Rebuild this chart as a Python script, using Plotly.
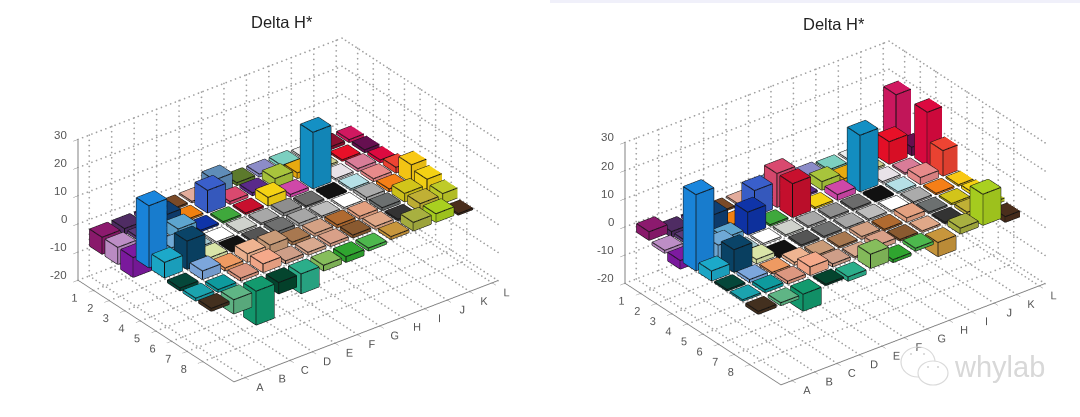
import numpy as np
import plotly.graph_objects as go

col_labels = ['A', 'B', 'C', 'D', 'E', 'F', 'G', 'H', 'I', 'J', 'K', 'L']
row_labels = ['1', '2', '3', '4', '5', '6', '7', '8']
z_ticks = [-20, -10, 0, 10, 20, 30]

# one row per line, columns A..L
well_colors = [
    ['#8C1A6E', '#4F2C63', '#6A3A8A', '#7A4A28', '#E3AC9C', '#5F8DB8', '#5C7A2C', '#8C8CC8', '#7CCFC0', '#EEEEEE', '#8A1030', '#D01860'],
    ['#BD8EC6', '#5D3A78', '#0E3F73', '#F08010', '#3A5FCB', '#D9496F', '#5A2A8A', '#A8C43C', '#E8AA10', '#CFCF90', '#E81028', '#660F50'],
    ['#7D1AA0', '#2C5D9A', '#5DA5CF', '#0F34A8', '#3FA83C', '#C8102E', '#F5D214', '#CF48A8', '#1490C4', '#E8E2E8', '#D97C98', '#DC0A40'],
    ['#1A86DD', '#6FA9D6', '#A5C8D0', '#FFFFFF', '#CFD2CC', '#A8A8A8', '#8E8E8E', '#6C6C6C', '#111111', '#B5E0E6', '#E88A8A', '#EE4433'],
    ['#1CA9C9', '#0A4468', '#D9E5A8', '#111111', '#555555', '#6F7070', '#A6A6A6', '#BDBDBD', '#FFFFFF', '#ABABAB', '#F57F17', '#F8C815'],
    ['#05473A', '#7CA6DC', '#EE9A62', '#EFB491', '#C99B78', '#A87850', '#D4A184', '#B06A30', '#E3A080', '#6C7070', '#D2C41A', '#F5D214'],
    ['#1BA3AE', '#0E9A9E', '#DC9780', '#F5A98A', '#CE9E88', '#D9A98F', '#D9A088', '#8A5A30', '#E0A888', '#333333', '#C0B035', '#BFCB28'],
    ['#43301F', '#5FB585', '#139A6E', '#04452E', '#2BAE8A', '#86BD5C', '#2FA52F', '#4DB84D', '#C8963C', '#A8B040', '#A9D020', '#4A2E1C'],
]

left_values = [
    [-6, -2, -1, 0.5, 0.5, 5, 1, 1, 1, 0.5, 1, 1],
    [-6, -1, 5, 0.5, 8, 1, 1, 3, 2, 0.5, 0.5, 1],
    [-7, 1, 4, 0.5, 0.5, 0.5, 3, 1, 20, 0.5, 1, 1],
    [22, 4, 0.5, -0.5, 0.5, 0.5, 1, 0.5, 0.5, 0.5, 1, 2],
    [5.5, 10, 1, 0.5, 0.5, 1, 1, 0.5, 0.5, 1, 1, 6.5],
    [-1, 3, 1, 3, 3, 1, 1, 1, 1, 1, 3, 5],
    [-1, -1, 1, 3, 1, 1, 1, 1, 1, 0.5, 3, 3.5],
    [-1, -5, -12, -4, -7, -2, -2, -1, 1, 3, 3, -0.5],
]

right_values = [
    [3, -2, -1, 0.5, 0.5, 3, 1, 1, 0.5, 0.5, 1, 18],
    [-1, -1, 6, -1, 9, 12, 0.5, 3, 1, 0.5, 8, 3],
    [-3, 1, 2, 8, 0.5, 12, 0.5, 2, 20, 0.5, 0.5, 19],
    [27, 6, 0.5, 0.5, 0.5, 0.5, 0.5, 0.5, 0.5, 0.5, 2.5, 9],
    [3.5, 8, 1.5, -1, 0.5, 0.5, 0.5, 0.5, 0.5, 0.5, 0.5, 0.5],
    [0.5, 1, 0.5, 1, 0.5, 0.5, 1, 0.5, 1.5, 0.5, 0.5, 1],
    [0.5, 1, 1, 3, 1, 0.5, 1.5, 0.5, 0.5, 0.5, 1, 1],
    [-1, -1, -6, 0.5, -1.5, 5, -1, 1, -5, 2, 11, -2],
]

x_range = [0.5, 12.26]
y_range = [10, 0]
z_range = [-20, 30]
bar_width = 0.8
edge_color = '#111111'
grid_color = '#A0A0A0'
axis_color = '#808080'
tick_font = dict(family='Liberation Sans', size=11.5, color='#555555')


def shade(hex_color, k):
    rgb = [int(hex_color[i:i + 2], 16) for i in (1, 3, 5)]
    return 'rgb(%d,%d,%d)' % tuple(min(255, int(v * k)) for v in rgb)


def bar_traces(values, scene):
    xs, ys, zs, ii, jj, kk, face_colors = [], [], [], [], [], [], []
    ex, ey, ez = [], [], []
    h = bar_width / 2
    for r, row in enumerate(values):
        for c, v in enumerate(row):
            n = len(xs)
            x0, x1 = c + 1 - h, c + 1 + h
            y0, y1 = r + 1 - h, r + 1 + h
            z0, z1 = min(0, v), max(0, v)
            xs += [x0, x1, x1, x0, x0, x1, x1, x0]
            ys += [y0, y0, y1, y1, y0, y0, y1, y1]
            zs += [z0, z0, z0, z0, z1, z1, z1, z1]
            color = well_colors[r][c]
            # top, front (y high), side (x low), then the two hidden walls
            faces = [((4, 5, 6), 1.0), ((4, 6, 7), 1.0),
                     ((3, 2, 6), 0.93), ((3, 6, 7), 0.93),
                     ((0, 3, 7), 0.98), ((0, 7, 4), 0.98),
                     ((0, 1, 5), 0.9), ((0, 5, 4), 0.9),
                     ((1, 2, 6), 0.9), ((1, 6, 5), 0.9)]
            for (a, b, d), k in faces:
                ii.append(n + a)
                jj.append(n + b)
                kk.append(n + d)
                face_colors.append(shade(color, k))
            for a, b in [(4, 5), (5, 6), (6, 7), (7, 4), (0, 3), (3, 2), (0, 4), (3, 7), (2, 6)]:
                ex += [xs[n + a], xs[n + b], None]
                ey += [ys[n + a], ys[n + b], None]
                ez += [zs[n + a], zs[n + b], None]
    mesh = go.Mesh3d(x=xs, y=ys, z=zs, i=ii, j=jj, k=kk, facecolor=face_colors, flatshading=True,
                     lighting=dict(ambient=1, diffuse=0, specular=0, fresnel=0, roughness=1),
                     hoverinfo='skip', showscale=False, scene=scene)
    edges = go.Scatter3d(x=ex, y=ey, z=ez, mode='lines', line=dict(color=edge_color, width=2),
                         hoverinfo='skip', showlegend=False, scene=scene)
    return [mesh, edges]


def dotted(p, q, gx, gy, gz):
    # dots about 6 px apart along one wall or floor line
    n = int(np.hypot((q[0] - p[0]) * 30, np.hypot((q[1] - p[1]) * 28, (q[2] - p[2]) * 3.4)) / 6)
    for u in np.linspace(0, 1, n):
        gx.append(p[0] + (q[0] - p[0]) * u)
        gy.append(p[1] + (q[1] - p[1]) * u)
        gz.append(p[2] + (q[2] - p[2]) * u)


def grid_trace(scene):
    gx, gy, gz = [], [], []
    xlo, xhi = x_range
    yhi, ylo = y_range
    zlo, zhi = z_range
    for t in range(1, 13):
        dotted((t, yhi, zlo), (t, ylo, zlo), gx, gy, gz)
        dotted((t, ylo, zlo), (t, ylo, zhi), gx, gy, gz)
    for t in range(1, 9):
        dotted((xlo, t, zlo), (xhi, t, zlo), gx, gy, gz)
        dotted((xhi, t, zlo), (xhi, t, zhi), gx, gy, gz)
    for t in z_ticks:
        dotted((xlo, ylo, t), (xhi, ylo, t), gx, gy, gz)
        dotted((xhi, ylo, t), (xhi, yhi, t), gx, gy, gz)
    return go.Scatter3d(x=gx, y=gy, z=gz, mode='markers', marker=dict(color=grid_color, size=1.0, line=dict(width=0)),
                        hoverinfo='skip', showlegend=False, scene=scene)


def scene_layout(domain_x, domain_y):
    axis_style = dict(showgrid=False, showbackground=False, zeroline=False, showline=True, linecolor=axis_color,
                      linewidth=2, ticks='outside', ticklen=6, tickcolor=axis_color, title=dict(text=''), tickangle=0,
                      tickfont=tick_font, showspikes=False)
    d = 1.27
    return dict(
        domain=dict(x=domain_x, y=domain_y),
        xaxis=dict(axis_style, range=x_range, tickvals=list(range(1, 13)), ticktext=col_labels),
        yaxis=dict(axis_style, range=y_range, tickvals=list(range(1, 9)), ticktext=row_labels),
        zaxis=dict(axis_style, range=z_range, tickvals=z_ticks, showticklabels=False),
        aspectmode='manual',
        aspectratio=dict(x=1.664, y=1.281, z=0.813),
        camera=dict(eye=dict(x=-0.527 * d, y=-0.687 * d, z=0.5 * d), up=dict(x=0, y=0, z=1),
                    center=dict(x=0, y=0, z=0), projection=dict(type='orthographic')),
        # z labels sit a little above their ticks, as in the reference
        annotations=[dict(x=x_range[0], y=y_range[1], z=t, text=str(t), showarrow=False, xanchor='right',
                          xshift=-9, yshift=5, font=tick_font) for t in z_ticks],
    )


fig = go.Figure()
for t in bar_traces(left_values, 'scene') + [grid_trace('scene')]:
    fig.add_trace(t)
for t in bar_traces(right_values, 'scene2') + [grid_trace('scene2')]:
    fig.add_trace(t)

title_font = dict(family='Liberation Sans', size=16.5, color='#222222')
bubble = dict(color='#DADADA', width=1.2)
shapes = [
    dict(type='rect', xref='paper', yref='paper', x0=550 / 1080, x1=1, y0=1 - 3 / 417, y1=1,
         fillcolor='#F0F0FA', line=dict(width=0)),
    dict(type='circle', xref='paper', yref='paper', x0=901 / 1080, x1=935 / 1080, y0=1 - 377 / 417, y1=1 - 347 / 417,
         line=bubble),
    dict(type='circle', xref='paper', yref='paper', x0=918 / 1080, x1=948 / 1080, y0=1 - 385 / 417, y1=1 - 361 / 417,
         line=bubble, fillcolor='white'),
]
for ex_, ey_ in [(911, 354), (924, 354), (928, 367), (938, 367)]:
    shapes.append(dict(type='circle', xref='paper', yref='paper', x0=(ex_ - 1) / 1080, x1=(ex_ + 1) / 1080,
                       y0=1 - (ey_ + 1) / 417, y1=1 - (ey_ - 1) / 417, line=dict(width=0), fillcolor='#D0D0D0'))

fig.update_layout(
    width=1080, height=417, margin=dict(l=0, r=0, t=0, b=0), paper_bgcolor='white', showlegend=False,
    scene=scene_layout([0.0421, 0.4921], [0.016, 0.976]),
    scene2=scene_layout([0.5481, 0.9981], [0.009, 0.969]),
    annotations=[
        dict(text='Delta H*', x=282 / 1080, y=1 - 22 / 417, xref='paper', yref='paper', showarrow=False, font=title_font,
             xanchor='center', yanchor='middle'),
        dict(text='Delta H*', x=834 / 1080, y=1 - 24 / 417, xref='paper', yref='paper', showarrow=False, font=title_font,
             xanchor='center', yanchor='middle'),
        dict(text='whylab', x=999 / 1080, y=1 - 367 / 417, xref='paper', yref='paper', showarrow=False,
             font=dict(family='Liberation Sans', size=29, color='#D8D8D8'), xanchor='center', yanchor='middle'),
    ],
    shapes=shapes,
)

fig.write_html("out.html", config=dict(displayModeBar=False), post_script="document.body.style.margin='0';")
